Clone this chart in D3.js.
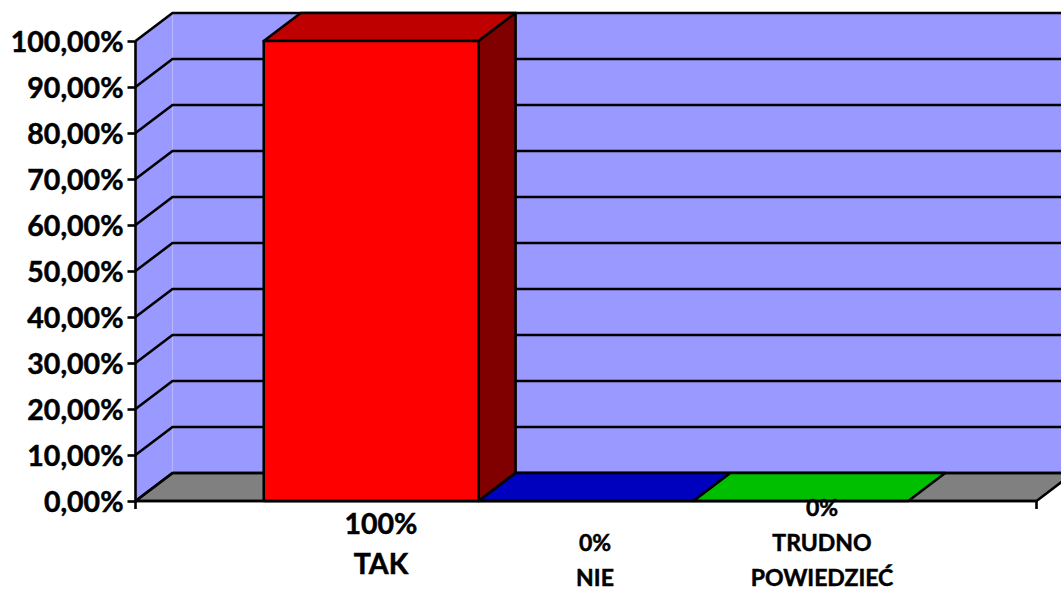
<!DOCTYPE html>
<html><head><meta charset="utf-8">
<script src="https://cdn.jsdelivr.net/npm/d3@7/dist/d3.min.js"></script>
<style>
html,body{margin:0;padding:0;background:#fff;overflow:hidden}
svg{display:block}
text{font-family:Lato,"Open Sans",sans-serif;font-weight:700;fill:#000;stroke:#000;stroke-width:.5px}
</style></head><body>
<script>
const categories = ["TAK", "NIE", "TRUDNO POWIEDZIEĆ"];
const values = [100, 0, 0];
const valueLabels = ["100%", "0%", "0%"];
const categoryLines = [["TAK"], ["NIE"], ["TRUDNO", "POWIEDZIEĆ"]];
const tickValues = [0, 10, 20, 30, 40, 50, 60, 70, 80, 90, 100];
const tickLabels = ["0,00%", "10,00%", "20,00%", "30,00%", "40,00%", "50,00%", "60,00%", "70,00%", "80,00%", "90,00%", "100,00%"];
const frontColors = ["#ff0000", "#0000ff", "#00ff00"];
const topColors = ["#bf0000", "#0000bf", "#00bf00"];
const sideColors = ["#800000", "#000080", "#008000"];

const W = 1061, H = 589;
const plot = {left: 135.5, right: 1036.5, top: 41, bottom: 501};
const depth = {x: 37, y: -28};
const labelLayout = [
  {x: 381, size: 28.5, lines: [534, 574]},
  {x: 595, size: 23, lines: [551, 586]},
  {x: 822, size: 23, lines: [516, 551, 586]}
];

const svg = d3.select("body").append("svg").attr("width", W).attr("height", H);
const y = d3.scaleLinear().domain([0, 100]).range([plot.bottom, plot.top]);
const x = d3.scaleBand().domain(categories).range([plot.left, plot.right]).paddingInner(0).paddingOuter(0.597);
const pts = a => a.map(p => p.join(",")).join(" ");
const stroke = sel => sel.attr("stroke", "#000").attr("stroke-width", 2.6).attr("stroke-linejoin", "round");

// back wall, side wall, floor
svg.append("polygon").attr("fill", "#9999ff").attr("points", pts([
  [plot.left + depth.x, y(100) + depth.y], [W + 20, y(100) + depth.y], [W + 20, y(0) + depth.y], [plot.left + depth.x, y(0) + depth.y]]));
svg.append("polygon").attr("fill", "#9999ff").attr("points", pts([
  [plot.left, y(100)], [plot.left + depth.x, y(100) + depth.y], [plot.left + depth.x, y(0) + depth.y], [plot.left, y(0)]]));
svg.append("line").attr("x1", plot.left + depth.x).attr("x2", plot.left + depth.x)
  .attr("y1", y(100) + depth.y).attr("y2", y(0) + depth.y).attr("stroke", "#b8b8ff").attr("stroke-width", 1);
stroke(svg.append("polygon").attr("fill", "#808080").attr("points", pts([
  [plot.left, y(0)], [plot.left + depth.x, y(0) + depth.y], [plot.right + depth.x, y(0) + depth.y], [plot.right, y(0)]])));

// gridlines on the walls
tickValues.forEach(t => {
  stroke(svg.append("polyline").attr("fill", "none").attr("points", pts([
    [plot.left, y(t)], [plot.left + depth.x, y(t) + depth.y], [W + 20, y(t) + depth.y]])));
});

// bars
categories.forEach((c, i) => {
  const x0 = x(c), x1 = x0 + x.bandwidth(), yt = y(values[i]), yb = y(0);
  stroke(svg.append("polygon").attr("fill", topColors[i]).attr("points", pts([
    [x0, yt], [x0 + depth.x, yt + depth.y], [x1 + depth.x, yt + depth.y], [x1, yt]])));
  if (values[i] > 0) {
    stroke(svg.append("polygon").attr("fill", sideColors[i]).attr("points", pts([
      [x1, yt], [x1 + depth.x, yt + depth.y], [x1 + depth.x, yb + depth.y], [x1, yb]])));
    stroke(svg.append("rect").attr("fill", frontColors[i])
      .attr("x", x0).attr("y", yt).attr("width", x.bandwidth()).attr("height", yb - yt));
  }
});

// value axis
const axis = d3.axisLeft(y).tickValues(tickValues).tickSize(8).tickPadding(4)
  .tickFormat(d => tickLabels[tickValues.indexOf(d)]);
const gy = svg.append("g").attr("transform", `translate(${plot.left},0)`).call(axis);
gy.selectAll(".domain").remove();
gy.selectAll("line").attr("stroke", "#000").attr("stroke-width", 2.6);
gy.selectAll("text").attr("font-size", 28.5).attr("fill", "#000").attr("dy", "0.36em");

// category axis
stroke(svg.append("line").attr("x1", plot.left).attr("x2", plot.right).attr("y1", y(0)).attr("y2", y(0)));
stroke(svg.append("line").attr("x1", plot.left).attr("x2", plot.left).attr("y1", y(100)).attr("y2", y(0) + 8));
stroke(svg.append("line").attr("x1", plot.right).attr("x2", plot.right).attr("y1", y(0)).attr("y2", y(0) + 8));

// labels under the bars
categories.forEach((c, i) => {
  const lines = [valueLabels[i], ...categoryLines[i]];
  const l = labelLayout[i];
  lines.forEach((s, j) => svg.append("text").attr("x", l.x).attr("y", l.lines[j])
    .attr("text-anchor", "middle").attr("font-size", l.size).text(s));
});
</script>
</body></html>
